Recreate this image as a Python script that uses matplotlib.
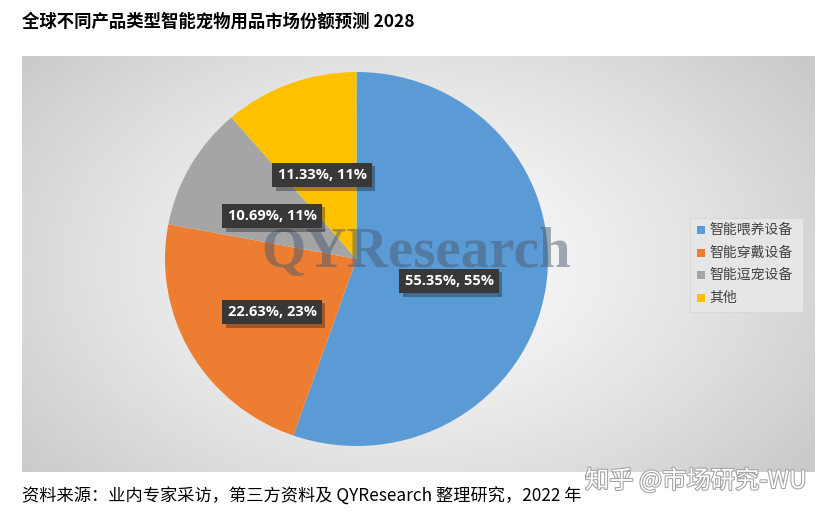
import numpy as np
import matplotlib.pyplot as plt
import matplotlib.patheffects as pe

plt.rcParams['font.family'] = ['Noto Sans CJK SC', 'DejaVu Sans']

# datos
categorias = ['智能喂养设备', '智能穿戴设备', '智能逗宠设备', '其他']
porcentajes = [55.35, 22.63, 10.69, 11.33]
redondeado = [55, 23, 11, 11]
colores = ['#5b9bd5', '#ed7d31', '#a5a5a5', '#ffc000']

titulo = '全球不同产品类型智能宠物用品市场份额预测 2028'
fuente = '资料来源：业内专家采访，第三方资料及 QYResearch 整理研究，2022 年'

fig = plt.figure(figsize=(8.31, 5.14), dpi=100)
W, H = 831, 514

def box(x0, y0, x1, y1):
    # pixel coords (top-left origin) -> figure fraction
    return [x0 / W, 1 - y1 / H, (x1 - x0) / W, (y1 - y0) / H]

# fondo con degradado radial
ax_bg = fig.add_axes(box(22, 56, 815, 472))
yy, xx = np.mgrid[0:200, 0:380]
cx, cy = 185, 100
r = np.sqrt(((xx - cx) / 240.0) ** 2 + ((yy - cy) / 160.0) ** 2)
r = np.clip(r, 0, 1)
g = 0.99 - 0.2 * r ** 1.3
img = np.dstack([g, g, g])
ax_bg.imshow(img, aspect='auto', extent=[0, 1, 0, 1])
ax_bg.set_axis_off()

# pastel
ax = fig.add_axes(box(165, 72, 548, 446))
wedges, _ = ax.pie(porcentajes, colors=colores, startangle=90, counterclock=False,
                   radius=1.0, wedgeprops=dict(linewidth=0))
ax.set_xlim(-1, 1)
ax.set_ylim(-1, 1)
ax.set_aspect('auto')
ax.set_axis_off()

# marca de agua
fig.text(416 / W, 1 - 253 / H, 'QYResearch', family='Liberation Serif', fontweight='bold',
         fontsize=41, color='#4a5a70', alpha=0.5, ha='center', va='center')

# etiquetas (con sombra en la caja)
pos_etq = [(449, 281), (272, 312), (272, 216), (322, 175)]
for (px, py), p, rr in zip(pos_etq, porcentajes, redondeado):
    t = fig.text(px / W, 1 - py / H, f'{p:.2f}%, {rr}%', fontsize=10.5, fontweight='bold',
                 color='white', ha='center', va='center', family=['Open Sans', 'DejaVu Sans'],
                 bbox=dict(boxstyle='square,pad=0.35', fc='#383838', ec='none'))
    t.get_bbox_patch().set_path_effects([pe.SimplePatchShadow(offset=(2.5, -2.5), alpha=0.35),
                                         pe.Normal()])

# leyenda
fig.patches.append(plt.Rectangle((690 / W, 1 - 312 / H), 113 / W, 94 / H,
                                 transform=fig.transFigure, fc='#e6e6e6', ec='#d8d8d8', lw=0.8))
for i, (c, col) in enumerate(zip(categorias, colores)):
    y = 230 + i * 22.5
    fig.patches.append(plt.Rectangle((697 / W, 1 - (y + 4) / H), 8 / W, 8 / H,
                                     transform=fig.transFigure, fc=col, ec='none'))
    fig.text(709 / W, 1 - y / H, c, fontsize=10, color='#404040', va='center')

# titulo y fuente
fig.text(22 / W, 1 - 22 / H, titulo, fontsize=12.5, fontweight='bold', va='center', color='black')
fig.text(22 / W, 1 - 497 / H, fuente, fontsize=12.4, va='center', color='black')

fig.text(585 / W, 1 - 481 / H, '知乎 @市场研究-WU', fontsize=17.5, color='white', va='center',
         path_effects=[pe.withStroke(linewidth=1.5, foreground='#a0a0a0')])

fig.savefig('out.png', dpi=100)
